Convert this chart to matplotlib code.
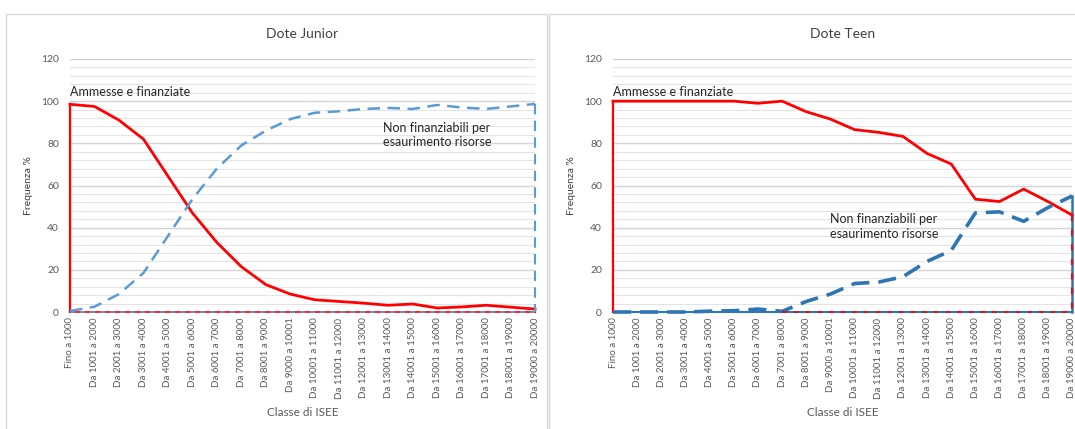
import matplotlib
matplotlib.use("Agg")
import matplotlib.pyplot as plt
from matplotlib.patches import Rectangle
import numpy as np

plt.rcParams['font.family'] = ['Lato', 'DejaVu Sans']

categories = ["Fino a 1000", "Da 1001 a 2000", "Da 2001 a 3000", "Da 3001 a 4000",
              "Da 4001 a 5000", "Da 5001 a 6000", "Da 6001 a 7000", "Da 7001 a 8000",
              "Da 8001 a 9000", "Da 9000 a 10001", "Da 10001 a 11000", "Da 11001 a 12000",
              "Da 12001 a 13000", "Da 13001 a 14000", "Da 14001 a 15000", "Da 15001 a 16000",
              "Da 16001 a 17000", "Da 17001 a 18000", "Da 18001 a 19000", "Da 19000 a 20000"]

junior_ammesse = [98.5, 97.5, 91, 82, 64.5, 47, 33, 21.5, 13, 8.5,
                  5.8, 5, 4.2, 3.2, 3.8, 1.9, 2.4, 3.2, 2.3, 1.4]
junior_non_fin = [0.5, 2.5, 8.5, 18.5, 36, 53.5, 68, 79, 86, 91.5,
                  94.5, 95.2, 96.3, 96.8, 96.3, 98.2, 97, 96.3, 97.5, 98.7]

teen_ammesse = [100, 100, 100, 100, 100, 100, 99, 100, 95, 91.5,
                86.5, 85.2, 83.3, 75.2, 70.2, 53.5, 52.4, 58.3, 52.4, 46]
teen_non_fin = [0, 0, 0, 0, 0.4, 0.6, 1.4, 0.3, 5, 8.5,
                13.5, 14.2, 16.7, 24, 29.2, 47, 47.5, 43, 49.5, 55]

titles = ["Dote Junior", "Dote Teen"]
ylabel = "Frequenza %"
xlabel = "Classe di ISEE"
label_red = "Ammesse e finanziate"
label_blue = "Non finanziabili per\nesaurimento risorse"

W, H = 1075, 429
fig = plt.figure(figsize=(W / 100, H / 100), dpi=100)

# panel frames
for x0, x1 in [(6, 547), (549, 1080)]:
    fig.patches.append(Rectangle((x0 / W, -0.05), (x1 - x0) / W, (H - 14) / H + 0.05,
                                 transform=fig.transFigure, fill=False,
                                 edgecolor="#D9D9D9", linewidth=1.0))

bottom = (H - 312) / H
top = (H - 59) / H
axes_specs = [(70, 535), (613, 1072)]
red = "#FF0000"
blues = ["#5B9BD5", "#2E75B6"]
data = [(junior_ammesse, junior_non_fin), (teen_ammesse, teen_non_fin)]
blue_text_pos = [(12.8, 84), (9.0, 40.5)]
gray = "#595959"

x = np.arange(len(categories))
for k, ((l, r), (ra, bn)) in enumerate(zip(axes_specs, data)):
    ax = fig.add_axes([l / W, bottom, (r - l) / W, top - bottom])
    ax.set_xlim(0, len(categories) - 1)
    ax.set_ylim(0, 120)
    ax.set_yticks(np.arange(0, 121, 20))
    ax.set_yticks(np.arange(0, 121, 4), minor=True)
    ax.grid(which="major", axis="y", color="#D4D4D4", linewidth=1.0)
    ax.grid(which="minor", axis="y", color="#E4E4E4", linewidth=0.8)
    ax.set_axisbelow(True)
    for s in ax.spines.values():
        s.set_visible(False)
    ax.tick_params(axis="y", which="both", length=0, labelsize=7.5, labelcolor=gray, pad=8)
    ax.tick_params(axis="x", length=0, labelsize=7, labelcolor=gray, pad=4)
    ax.set_xticks(x)
    ax.set_xticklabels(categories, rotation=90)
    ax.set_ylabel(ylabel, fontsize=7.5, color="#404040", labelpad=6)
    ax.set_xlabel(xlabel, fontsize=8.5, color=gray, labelpad=6)
    ax.set_title(titles[k], fontsize=10, color="#404040", pad=15)

    bl = blues[k]
    blw = 1.8 if k == 0 else 2.6
    # red outline (area style)
    ax.plot([x[0], x[0]], [0, ra[0]], color=red, lw=1.6, clip_on=False, zorder=3)
    ax.plot(x, ra, color=red, lw=2.0, clip_on=False, zorder=4)
    if k == 0:
        ax.plot([x[-1], x[-1]], [ra[-1], 0], color=red, lw=1.6, clip_on=False, zorder=3)
        ax.plot([x[0], x[-1]], [0, 0], color=red, lw=1.2, clip_on=False, zorder=3)
        ax.plot(x, bn, color=bl, lw=blw, dashes=(5, 3), clip_on=False, zorder=4)
        ax.plot([x[-1], x[-1]], [bn[-1], 0], color=bl, lw=1.5, dashes=(5, 3),
                clip_on=False, zorder=4)
        ax.plot([x[0], x[-1]], [0, 0], color=bl, lw=1.2, dashes=(3, 3),
                clip_on=False, zorder=4)
    else:
        ax.plot([x[0], x[-1]], [0, 0], color=bl, lw=1.5, clip_on=False, zorder=2.5)
        ax.plot(x, bn, color=bl, lw=blw, dashes=(5, 2.5), clip_on=False, zorder=4)
        ax.plot([x[-1], x[-1]], [bn[-1], 0], color=bl, lw=1.8, clip_on=False, zorder=2.5)
        ax.plot([x[-1], x[-1]], [ra[-1], 0], color=red, lw=1.5, dashes=(3, 4),
                clip_on=False, zorder=4)
        ax.plot([x[7], x[-1]], [0, 0], color=red, lw=1.2, dashes=(3, 4),
                clip_on=False, zorder=4)

    ax.text(0, 101.5, label_red, fontsize=9, color="#262626", ha="left", va="bottom")
    tx, ty = blue_text_pos[k]
    ax.text(tx, ty, label_blue, fontsize=9, color="#262626", ha="left", va="center",
            linespacing=1.25)

fig.savefig("out.png", dpi=100)
